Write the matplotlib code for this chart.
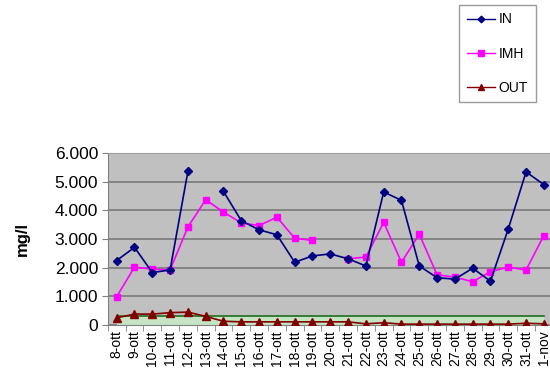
import numpy as np
import matplotlib.pyplot as plt
from matplotlib.ticker import FuncFormatter

plt.rcParams['font.family'] = ['Liberation Sans', 'DejaVu Sans']

days = ['8-ott', '9-ott', '10-ott', '11-ott', '12-ott', '13-ott', '14-ott',
        '15-ott', '16-ott', '17-ott', '18-ott', '19-ott', '20-ott', '21-ott',
        '22-ott', '23-ott', '24-ott', '25-ott', '26-ott', '27-ott', '28-ott',
        '29-ott', '30-ott', '31-ott', '1-nov']

nan = np.nan
conc_in = [2250, 2710, 1830, 1920, 5360, nan, 4660, 3640, 3320, 3150, 2190,
           2410, 2480, 2310, 2060, 4640, 4350, 2060, 1650, 1600, 1980, 1530,
           3350, 5340, 4900]
conc_imh = [990, 2020, 1950, 1920, 3420, 4370, 3940, 3560, 3470, 3760, 3030,
            2950, nan, 2310, 2370, 3580, 2190, 3170, 1750, 1670, 1510, 1860,
            2020, 1920, 3120]
conc_out = [250, 380, 380, 430, 450, 300, 130, 110, 110, 110, 110, 110, 110,
            110, 40, 80, 30, 30, 30, 30, 30, 30, 30, 60, 40]
limit = [310] * len(days)

fig = plt.figure(figsize=(5.5, 3.73), dpi=100)
ax = fig.add_axes([0.196, 0.1287, 0.809, 0.461])
x = np.arange(len(days))

ax.set_facecolor('#c0c0c0')
ax.fill_between(x, 0, limit, color='#c4e4c4', lw=0, zorder=1)
ax.plot(x, limit, color='#1f6f1f', lw=1.2, zorder=2)

ax.plot(x, conc_in, color='#000080', lw=1.2, marker='D', ms=4.5,
        label='IN', zorder=4)
ax.plot(x, conc_imh, color='#ff00ff', lw=1.2, marker='s', ms=5,
        label='IMH', zorder=3)
ax.plot(x, conc_out, color='#800000', lw=1.2, marker='^', ms=5.5,
        label='OUT', zorder=5)

ax.set_xlim(-0.5, len(days) - 0.5)
ax.set_ylim(0, 6000)
ax.set_yticks(np.arange(0, 6001, 1000))
ax.yaxis.set_major_formatter(FuncFormatter(lambda v, p: f'{int(v):,}'.replace(',', '.')))
ax.grid(axis='y', color='#7a7a7a', lw=1.2, zorder=0)
ax.set_axisbelow(True)

ax.set_xticks(x)
ax.set_xticklabels(days, rotation=90, fontsize=10)
ax.set_xticks(np.arange(-0.5, len(days)), minor=True)
ax.tick_params(axis='x', which='major', length=0, pad=4)
ax.tick_params(axis='x', which='minor', length=4, color='#808080')
ax.tick_params(axis='y', labelsize=12.5, length=4, color='#808080', pad=3)

for side in ['top', 'right']:
    ax.spines[side].set_color('#a0a0a0')
ax.spines['left'].set_color('#808080')
ax.spines['bottom'].set_color('#808080')

ax.set_ylabel('mg/l', fontsize=12, fontweight='bold', labelpad=18)

leg = fig.legend(loc='upper left', bbox_to_anchor=(0.835, 0.987),
                 borderaxespad=0, fontsize=10, frameon=True, fancybox=False,
                 labelspacing=1.45, handlelength=2.0, handletextpad=0.3,
                 borderpad=0.55, markerscale=0.75)
leg.get_frame().set_edgecolor('#808080')
leg.get_frame().set_linewidth(1.0)
for line in leg.get_lines():
    line.set_linewidth(1.0)

fig.savefig('out.png', dpi=100)
